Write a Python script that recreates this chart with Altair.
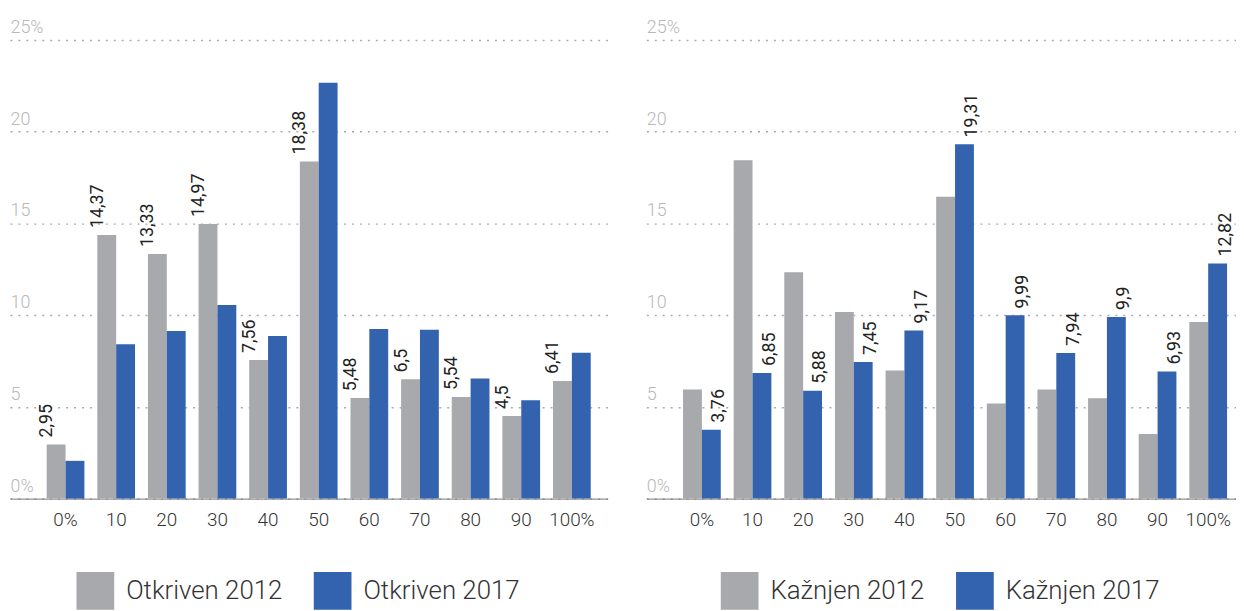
import altair as alt
import pandas as pd

categories = ["0%", "10", "20", "30", "40", "50", "60", "70", "80", "90", "100%"]

otkriven_2012 = [2.95, 14.37, 13.33, 14.97, 7.56, 18.38, 5.48, 6.5, 5.54, 4.5, 6.41]
otkriven_2017 = [2.06, 8.42, 9.14, 10.55, 8.87, 22.67, 9.25, 9.2, 6.55, 5.36, 7.95]
kaznjen_2012 = [5.95, 18.45, 12.34, 10.17, 6.98, 16.45, 5.19, 5.95, 5.47, 3.52, 9.63]
kaznjen_2017 = [3.76, 6.85, 5.88, 7.45, 9.17, 19.31, 9.99, 7.94, 9.9, 6.93, 12.82]

y_ticks = [0, 5, 10, 15, 20, 25]

GRAY = "#a8a9ad"
BLUE = "#3363ae"
FONT = "Roboto"


def fmt(v):
    s = f"{v:g}"
    return s.replace(".", ",")


def panel(s1, v1, s2, v2, labelled, width, pad_outer, align, legend_x, label_dy):
    rows = []
    for c, a, b in zip(categories, v1, v2):
        rows.append({"category": c, "series": s1, "value": a,
                     "label": fmt(a) if labelled == s1 else ""})
        rows.append({"category": c, "series": s2, "value": b,
                     "label": fmt(b) if labelled == s2 else ""})
    df = pd.DataFrame(rows)
    base = alt.Chart(df)

    x = alt.X(
        "category:N", sort=categories,
        scale=alt.Scale(paddingInner=0.255, paddingOuter=pad_outer, align=align),
        axis=alt.Axis(title=None, labelAngle=0, labelFontSize=19, labelColor="#333333",
                      labelFont=FONT, labelFontWeight=300, labelPadding=12, ticks=False,
                      domainColor="#777777", domainWidth=1, grid=False),
    )
    y = alt.Y(
        "value:Q",
        scale=alt.Scale(domain=[0, 25], nice=False, zero=True),
        axis=alt.Axis(title=None, values=y_ticks,
                      labelExpr="datum.value == 0 || datum.value == 25 ? datum.label + '%' : datum.label",
                      labelAlign="left", labelBaseline="alphabetic", labelOffset=-7.5,
                      labelPadding=0, ticks=False, tickSize=0, domain=False, grid=True,
                      gridDash=[2, 6], gridColor="#aaaaaa", gridWidth=1.5,
                      labelColor="#b8b8b8", labelFontSize=18, labelFont=FONT,
                      labelFontWeight=300),
    )
    xoff = alt.XOffset("series:N", sort=[s1, s2],
                       scale=alt.Scale(paddingInner=0, paddingOuter=0))

    bars = base.mark_bar().encode(
        x=x, y=y, xOffset=xoff,
        color=alt.Color(
            "series:N",
            scale=alt.Scale(domain=[s1, s2], range=[GRAY, BLUE]),
            legend=alt.Legend(title=None, orient="none", legendX=legend_x, legendY=536,
                              direction="horizontal", symbolType="square", symbolSize=1444,
                              symbolStrokeWidth=0, labelFontSize=26, labelFont=FONT,
                              labelFontWeight=300, labelColor="#333333", labelOffset=12,
                              columnPadding=31, padding=0, labelLimit=400),
        ),
    )
    text = base.transform_filter(alt.datum.series == labelled).mark_text(
        angle=270, align="left", baseline="middle", dx=7, dy=label_dy,
        fontSize=18, font=FONT, color="#222222",
    ).encode(x=x, y=y, xOffset=xoff, text="label:N")

    return alt.layer(bars, text).properties(width=width, height=462)


left = panel("Otkriven 2012", otkriven_2012, "Otkriven 2017", otkriven_2017,
             "Otkriven 2012", 602, 0.529, 0.685, 67, -9)
right = panel("Kažnjen 2012", kaznjen_2012, "Kažnjen 2017", kaznjen_2017,
              "Kažnjen 2017", 594, 0.451, 0.804, 75, 8)

chart = alt.hconcat(left, right, spacing=39).resolve_scale(
    color="independent", x="independent", y="independent", xOffset="independent"
).resolve_legend(color="independent").properties(
    padding={"left": 2, "top": 8, "right": 0, "bottom": 0}
).configure_view(stroke=None)

chart.save("out.html", embed_options={"renderer": "svg", "actions": False})
